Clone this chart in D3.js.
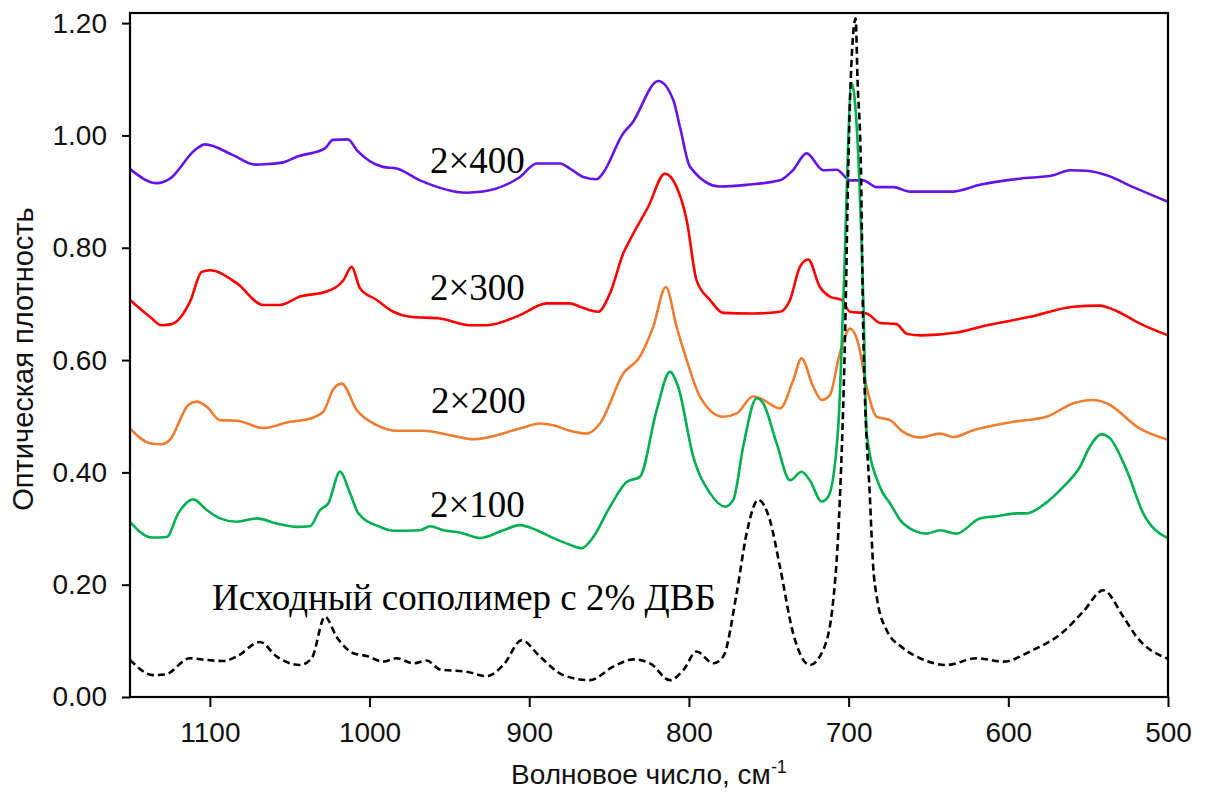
<!DOCTYPE html>
<html>
<head>
<meta charset="utf-8">
<script src="https://cdn.jsdelivr.net/npm/d3@7"></script>
<style>
  html, body { margin: 0; padding: 0; background: #fff; }
  svg { display: block; }
  .tick text { font-family: "Liberation Sans", Arial, sans-serif; font-size: 28px; fill: #111; }
  .tick line { stroke: #000; stroke-width: 2; }
</style>
</head>
<body>
<svg id="chart" width="1208" height="794"></svg>
<script>
// IR spectra: [wavenumber, cm-1; optical density]
const spec2x400 = [
  [1150, 0.940], [1133, 0.915], [1125, 0.923], [1109.3, 0.974], [1103, 0.984], [1085.5, 0.965],
  [1071.7, 0.948], [1063.6, 0.949], [1054.2, 0.952], [1045.6, 0.962], [1027.9, 0.977], [1022.9, 0.992],
  [1013.5, 0.993], [1008, 0.974], [991.6, 0.944], [983, 0.941], [968.4, 0.920], [939.2, 0.898],
  [929, 0.900], [905.8, 0.926], [895.3, 0.950], [880.8, 0.950], [874.5, 0.941], [866.2, 0.926],
  [857.8, 0.922], [853.8, 0.933], [841.1, 1.004], [835.8, 1.021], [819.2, 1.097], [809.8, 1.063],
  [805.6, 1.015], [799.3, 0.944], [780.6, 0.909], [763.8, 0.912], [743, 0.920], [734.9, 0.938],
  [726.3, 0.968], [715.9, 0.938], [707.5, 0.939], [699.1, 0.920], [691, 0.920], [682.4, 0.908],
  [672, 0.908], [661.6, 0.900], [653.3, 0.900], [634.5, 0.900], [617.8, 0.912], [592.7, 0.923],
  [571.8, 0.929], [561.4, 0.938], [551, 0.937], [538.4, 0.929], [521.8, 0.908], [500, 0.882]
];

const spec2x300 = [
  [1150, 0.707], [1137.5, 0.677], [1130.2, 0.662], [1123.9, 0.664], [1112.4, 0.704], [1105.1, 0.757],
  [1099.9, 0.760], [1083.2, 0.737], [1066.5, 0.698], [1056.1, 0.698], [1043.6, 0.713], [1026.8, 0.722],
  [1016.4, 0.742], [1011.2, 0.766], [1006, 0.728], [995.5, 0.707], [985.1, 0.686], [974.7, 0.677],
  [955.9, 0.674], [937.1, 0.662], [926.6, 0.662], [905.8, 0.680], [889.1, 0.701], [874.5, 0.701],
  [868.2, 0.695], [856.8, 0.686], [849.4, 0.719], [841.1, 0.790], [835.8, 0.820], [825.5, 0.873],
  [815, 0.932], [807.7, 0.908], [801.4, 0.849], [795.2, 0.742], [786.8, 0.707], [778.5, 0.684],
  [759.7, 0.683], [743, 0.686], [736.7, 0.707], [730.5, 0.766], [725.3, 0.779], [718, 0.730],
  [711.8, 0.713], [704.4, 0.707], [699.1, 0.686], [688.7, 0.683], [680.4, 0.666], [670, 0.664],
  [663.7, 0.647], [654.3, 0.644], [632.4, 0.649], [617.8, 0.659], [586.4, 0.677], [559.3, 0.695],
  [542.6, 0.697], [534.3, 0.690], [517.6, 0.665], [500, 0.644]
];

const spec2x200 = [
  [1150, 0.478], [1137.5, 0.452], [1130.2, 0.450], [1125, 0.458], [1113.5, 0.520], [1108.2, 0.526],
  [1102, 0.517], [1093.6, 0.493], [1083.2, 0.492], [1066.5, 0.479], [1049.8, 0.490], [1039.4, 0.494],
  [1029, 0.508], [1022.7, 0.548], [1017.4, 0.558], [1008, 0.511], [995.5, 0.484], [983, 0.474],
  [966.3, 0.474], [947.6, 0.465], [935, 0.459], [905.8, 0.478], [893.3, 0.487], [884.9, 0.484],
  [874.5, 0.474], [864, 0.469], [855.7, 0.487], [841.1, 0.576], [830.7, 0.606], [822.4, 0.659],
  [814.4, 0.730], [807.7, 0.659], [801.4, 0.600], [793.1, 0.535], [778.5, 0.499], [770.1, 0.505],
  [759.8, 0.535], [755.5, 0.532], [743, 0.514], [734.7, 0.564], [729.5, 0.603], [722.1, 0.552],
  [716.9, 0.529], [711.7, 0.538], [705.5, 0.612], [699.1, 0.656], [694, 0.630], [688.7, 0.552],
  [682.4, 0.499], [674.1, 0.493], [665.8, 0.472], [655.3, 0.462], [642.8, 0.469], [634.5, 0.463],
  [622, 0.475], [596.9, 0.490], [576.1, 0.499], [559.3, 0.523], [546.8, 0.529], [538.4, 0.523],
  [517.6, 0.478], [500, 0.458]
];

const spec2x100 = [
  [1150, 0.312], [1136.4, 0.284], [1127, 0.285], [1119.8, 0.327], [1110.4, 0.352], [1102, 0.333],
  [1093.6, 0.318], [1083.2, 0.312], [1070.7, 0.318], [1058.1, 0.309], [1045.6, 0.303], [1037.3, 0.304],
  [1031, 0.333], [1025.8, 0.345], [1018.5, 0.401], [1012.2, 0.363], [1007, 0.327], [993.5, 0.303],
  [985.1, 0.296], [968.4, 0.297], [962.1, 0.304], [953.8, 0.297], [943.4, 0.293], [930.8, 0.283],
  [916.2, 0.297], [905.8, 0.306], [895.3, 0.297], [884.9, 0.283], [874.5, 0.271], [867.2, 0.265],
  [859.9, 0.285], [849.4, 0.339], [839, 0.383], [830.7, 0.392], [820.2, 0.511], [811.9, 0.579],
  [806.7, 0.552], [797.3, 0.428], [786.8, 0.363], [777.4, 0.339], [772.2, 0.351], [766, 0.446],
  [757.6, 0.532], [753.5, 0.523], [745.1, 0.452], [736.7, 0.386], [729.5, 0.401], [724.3, 0.386],
  [716.9, 0.348], [712.7, 0.357], [706.5, 0.481], [703.3, 0.707], [698.1, 1.093], [690.8, 0.707],
  [688.7, 0.469], [680.4, 0.374], [674.1, 0.345], [665.8, 0.309], [651.1, 0.291], [642.8, 0.297],
  [632.4, 0.291], [617.8, 0.318], [607.3, 0.322], [594.8, 0.327], [588.5, 0.327], [578.1, 0.342],
  [565.6, 0.374], [555.1, 0.410], [548.9, 0.446], [541.6, 0.468], [536.4, 0.461], [525.9, 0.404],
  [515.5, 0.327], [500, 0.283]
];

const specInitial = [
  [1150, 0.066], [1135.4, 0.039], [1128.1, 0.040], [1112.4, 0.069], [1102, 0.066], [1091.6, 0.064],
  [1083.2, 0.072], [1068.6, 0.098], [1058.1, 0.072], [1043.6, 0.057], [1036.2, 0.069], [1027.9, 0.143],
  [1020.6, 0.107], [1010.2, 0.078], [1001.8, 0.073], [991.4, 0.063], [983, 0.069], [972.6, 0.060],
  [964.2, 0.065], [955.9, 0.049], [939.2, 0.045], [926.6, 0.037], [916.2, 0.057], [904.7, 0.101],
  [893.3, 0.072], [878.7, 0.039], [862, 0.030], [847.4, 0.054], [834.8, 0.067], [824.4, 0.060],
  [811.9, 0.030], [803.5, 0.048], [795.2, 0.081], [784.8, 0.060], [778.5, 0.072], [770.1, 0.185],
  [763.9, 0.291], [756.6, 0.351], [749.3, 0.315], [743, 0.232], [734.7, 0.113], [724.3, 0.057],
  [715.9, 0.084], [709.6, 0.173], [705.5, 0.351], [702.2, 0.648], [700.2, 0.944], [698.7, 1.098],
  [695.6, 1.208], [694.4, 1.098], [692.3, 0.944], [690.8, 0.648], [686.6, 0.351], [684.6, 0.232],
  [682.4, 0.179], [676.2, 0.119], [665.8, 0.087], [655.3, 0.069], [638.6, 0.057], [619.8, 0.069],
  [603.2, 0.063], [586.4, 0.081], [565.6, 0.116], [553.1, 0.152], [540.5, 0.190], [528, 0.143],
  [519.6, 0.107], [500, 0.068]
];

const xTicks = [1100, 1000, 900, 800, 700, 600, 500];
const yTicks = [0, 0.2, 0.4, 0.6, 0.8, 1.0, 1.2];

const xTitle = "Волновое число, см";
const xTitleSup = "-1";
const yTitle = "Оптическая плотность";

const series = [
  { data: spec2x400, color: "#6414E6", dash: null, label: "2×400", lx: 430, ly: 173 },
  { data: spec2x300, color: "#FF0000", dash: null, label: "2×300", lx: 430, ly: 300 },
  { data: spec2x200, color: "#ED7D31", dash: null, label: "2×200", lx: 431, ly: 413 },
  { data: spec2x100, color: "#00B050", dash: null, label: "2×100", lx: 430, ly: 517 },
  { data: specInitial, color: "#000000", dash: "7,4", label: "Исходный сополимер с 2% ДВБ", lx: 212, ly: 610 }
];

// plot area
const plotLeft = 130, plotRight = 1168, plotTop = 13, plotBottom = 697;
const yMax = 1.218;

const svg = d3.select("#chart");

const x = d3.scaleLinear().domain([1150, 500]).range([plotLeft, plotRight]);
const y = d3.scaleLinear().domain([0, yMax]).range([plotBottom, plotTop]);

const line = d3.line()
  .x(d => x(d[0]))
  .y(d => y(d[1]))
  .curve(d3.curveMonotoneX);

// spectra
svg.append("g").selectAll("path.spec")
  .data(series)
  .join("path")
  .attr("class", "spec")
  .attr("d", d => line(d.data))
  .attr("fill", "none")
  .attr("stroke", d => d.color)
  .attr("stroke-width", 2.6)
  .attr("stroke-dasharray", d => d.dash)
  .attr("stroke-linejoin", "round");

// series labels
svg.append("g").selectAll("text")
  .data(series)
  .join("text")
  .attr("x", d => d.lx)
  .attr("y", d => d.ly)
  .attr("font-family", "'Liberation Serif', 'Times New Roman', serif")
  .attr("font-size", 37)
  .attr("fill", "#000")
  .text(d => d.label);

// axes
const yAxis = d3.axisLeft(y)
  .tickValues(yTicks)
  .tickFormat(d3.format(".2f"))
  .tickSize(8)
  .tickPadding(15);
const gy = svg.append("g").attr("transform", `translate(${plotLeft},0)`).call(yAxis);
gy.select(".domain").remove();

const xAxis = d3.axisBottom(x)
  .tickValues(xTicks)
  .tickFormat(d3.format("d"))
  .tickSize(10)
  .tickPadding(15);
const gx = svg.append("g").attr("transform", `translate(0,${plotBottom})`).call(xAxis);
gx.select(".domain").remove();

// frame
svg.append("rect")
  .attr("x", plotLeft)
  .attr("y", plotTop)
  .attr("width", plotRight - plotLeft)
  .attr("height", plotBottom - plotTop)
  .attr("fill", "none")
  .attr("stroke", "#000")
  .attr("stroke-width", 2.2);

// axis titles
const xt = svg.append("text")
  .attr("x", (plotLeft + plotRight) / 2)
  .attr("y", 784)
  .attr("text-anchor", "middle")
  .attr("font-family", "'Liberation Sans', Arial, sans-serif")
  .attr("font-size", 28)
  .attr("fill", "#111");
xt.append("tspan").text(xTitle);
xt.append("tspan").attr("font-size", 18).attr("dy", -11).text(xTitleSup);

svg.append("text")
  .attr("transform", `translate(33,${(plotTop + plotBottom) / 2 + 4}) rotate(-90)`)
  .attr("text-anchor", "middle")
  .attr("font-family", "'Liberation Sans', Arial, sans-serif")
  .attr("font-size", 29)
  .attr("fill", "#111")
  .text(yTitle);
</script>
</body>
</html>
